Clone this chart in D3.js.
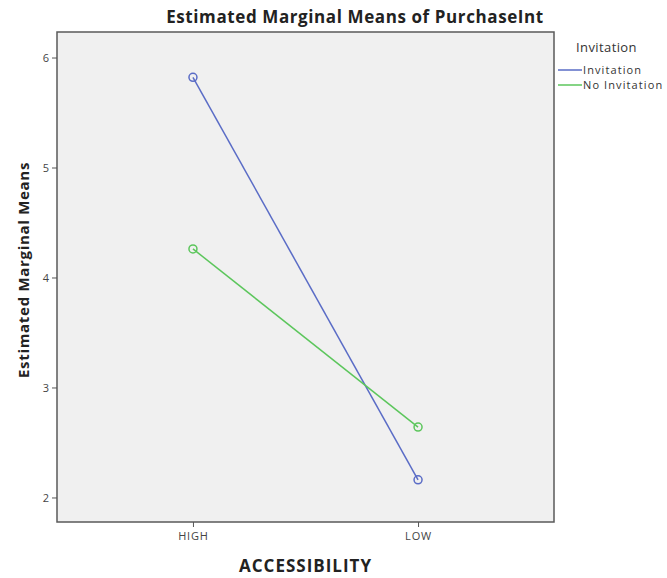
<!DOCTYPE html>
<html><head><meta charset="utf-8">
<script src="https://cdn.jsdelivr.net/npm/d3@7"></script>
<style>body{margin:0;background:#fff;} svg{display:block;}</style>
</head><body>
<svg id="c" width="667" height="578"></svg>
<script>
const categories = ["HIGH", "LOW"];
const seriesNames = ["Invitation", "No Invitation"];
const invitationValues = [5.82, 2.16];
const noInvitationValues = [4.26, 2.64];
const yTicks = [2, 3, 4, 5, 6];
const seriesColors = ["#5a6cc6", "#5cc65c"];

const svg = d3.select("#c");
const L = 57, R = 554, T = 32, B = 522;
const font = "'Open Sans', 'DejaVu Sans', sans-serif";

const x = d3.scalePoint().domain(categories).range([L, R]).padding(0.604);
const y = d3.scaleLinear().domain([1.777, 6.232]).range([B, T]);

svg.append("rect").attr("x", L).attr("y", T).attr("width", R - L).attr("height", B - T)
  .attr("fill", "#f0f0f0").attr("stroke", "#5a5a5a").attr("stroke-width", 1.5);

// y axis
const ya = svg.append("g").attr("transform", `translate(${L},0)`)
  .call(d3.axisLeft(y).tickValues(yTicks).tickSize(5).tickPadding(3).tickFormat(d3.format("d")));
ya.select(".domain").remove();
ya.selectAll("line").attr("stroke", "#555");
ya.selectAll("text").attr("font-family", font).attr("font-size", 11).attr("fill", "#444");

// x axis
const xa = svg.append("g").attr("transform", `translate(0,${B})`)
  .call(d3.axisBottom(x).tickSize(5).tickPadding(5));
xa.select(".domain").remove();
xa.selectAll("line").attr("stroke", "#555");
xa.selectAll("text").attr("font-family", font).attr("font-size", 11).attr("letter-spacing", 0.8).attr("fill", "#444");

const series = [invitationValues, noInvitationValues];
const line = d3.line().x((d, i) => x(categories[i])).y(d => y(d));
series.forEach((vals, s) => {
  svg.append("path").datum(vals).attr("d", line).attr("fill", "none")
    .attr("stroke", seriesColors[s]).attr("stroke-width", 1.5);
  svg.selectAll(null).data(vals).enter().append("circle")
    .attr("cx", (d, i) => x(categories[i])).attr("cy", d => y(d)).attr("r", 4)
    .attr("fill", "none").attr("stroke", seriesColors[s]).attr("stroke-width", 1.5);
});

// title
svg.append("text").attr("x", 355).attr("y", 23).attr("text-anchor", "middle")
  .attr("font-family", font).attr("font-weight", "bold").attr("font-size", 17).attr("letter-spacing", 0.6).attr("fill", "#222")
  .text("Estimated Marginal Means of PurchaseInt");

// axis titles
svg.append("text").attr("transform", `translate(29,${(T + B) / 2 - 7}) rotate(-90)`).attr("text-anchor", "middle")
  .attr("font-family", font).attr("font-weight", "bold").attr("font-size", 15).attr("letter-spacing", 0.7).attr("fill", "#222")
  .text("Estimated Marginal Means");
svg.append("text").attr("x", (L + R) / 2).attr("y", 572).attr("text-anchor", "middle")
  .attr("font-family", font).attr("font-weight", "bold").attr("font-size", 17).attr("letter-spacing", 1).attr("fill", "#222")
  .text("ACCESSIBILITY");

// legend
svg.append("text").attr("x", 576).attr("y", 52)
  .attr("font-family", font).attr("font-size", 13).attr("letter-spacing", 0.4).attr("fill", "#333").text("Invitation");
seriesNames.forEach((n, i) => {
  const yy = 70 + i * 15;
  svg.append("line").attr("x1", 558).attr("x2", 582).attr("y1", yy).attr("y2", yy)
    .attr("stroke", seriesColors[i]).attr("stroke-width", 1.5);
  svg.append("text").attr("x", 583).attr("y", yy + 4)
    .attr("font-family", font).attr("font-size", 11).attr("letter-spacing", 1.1).attr("fill", "#333").text(n);
});
</script>
</body></html>
